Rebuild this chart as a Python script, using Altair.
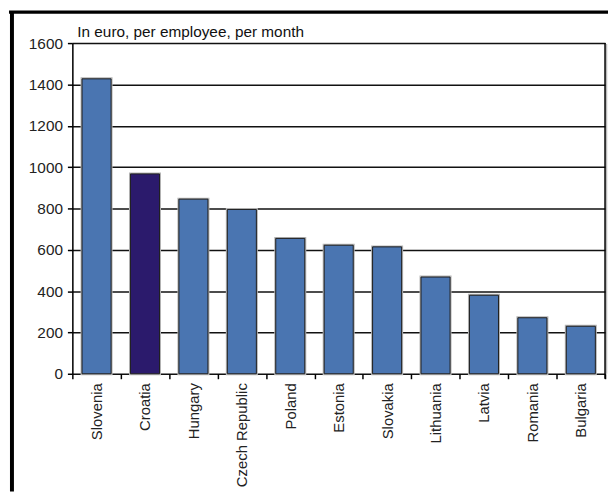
import altair as alt
import pandas as pd

countries = ["Slovenia", "Croatia", "Hungary", "Czech Republic", "Poland", "Estonia",
             "Slovakia", "Lithuania", "Latvia", "Romania", "Bulgaria"]
values = [1427, 967, 845, 795, 655, 622, 614, 468, 380, 271, 230]
highlight = ["other", "Croatia", "other", "other", "other", "other",
             "other", "other", "other", "other", "other"]
y_ticks = [0, 200, 400, 600, 800, 1000, 1200, 1400, 1600]
subtitle = "In euro, per employee, per month"

df = pd.DataFrame({"country": countries, "value": values, "grp": highlight})

W, H = 538, 334
FONT = "Arial"

x_enc = alt.X("country:N", sort=countries, title=None,
              scale=alt.Scale(paddingInner=0, paddingOuter=0),
              axis=alt.Axis(labelAngle=-90, tickBand="extent", labelPadding=4,
                            domain=False, grid=False, labelLimit=200,
                            labelFontSize=15, labelFont=FONT))
y_enc = alt.Y("value:Q", title=None,
              scale=alt.Scale(domain=[0, 1600], nice=False),
              axis=alt.Axis(values=y_ticks, format="d", labelPadding=5,
                            labelFontSize=15.5, labelFont=FONT,
                            domainColor="#000000", domainWidth=1.5,
                            gridColor="#111111", gridWidth=1.5, gridOpacity=1))

base = alt.Chart(df)

halo = base.mark_bar(width=alt.RelativeBandSize(0.6), stroke="#b5b5b5",
                     strokeWidth=3, fill="#b5b5b5").encode(x=x_enc, y=y_enc)

bars = base.mark_bar(width=alt.RelativeBandSize(0.6), stroke="#1e1e1e",
                     strokeWidth=1).encode(
    x=x_enc, y=y_enc,
    color=alt.Color("grp:N", legend=None,
                    scale=alt.Scale(domain=["other", "Croatia"],
                                    range=["#4a75b1", "#2b1a6c"])))

one = pd.DataFrame({"t": [subtitle]})

title = alt.Chart(one).mark_text(align="left", baseline="alphabetic", fontSize=15.5,
                                 font=FONT, color="#111111").encode(
    text="t:N", x=alt.value(5), y=alt.value(-6))

right_shadow = alt.Chart(one).mark_rule(color="#bbbbbb", strokeWidth=1.5).encode(
    x=alt.value(W + 1.5), y=alt.value(1), y2=alt.value(H))
right_border = alt.Chart(one).mark_rule(color="#000000", strokeWidth=1.5).encode(
    x=alt.value(W), y=alt.value(0), y2=alt.value(H + 5))

left_frame = alt.Chart(one).mark_rule(color="#000000", strokeWidth=4).encode(
    x=alt.value(-61), y=alt.value(-31), y2=alt.value(H + 119))
top_frame = alt.Chart(one).mark_rule(color="#000000", strokeWidth=3.5).encode(
    x=alt.value(-64), x2=alt.value(W + 3), y=alt.value(-31.25))

chart = alt.layer(halo, bars, right_shadow, right_border, title, left_frame, top_frame).properties(
    width=W, height=H,
    autosize=alt.AutoSizeParams(type="none"),
    padding={"left": 65, "top": 33, "right": 3, "bottom": 119},
).configure_view(stroke=None).configure(background="#ffffff").configure_axis(
    labelColor="#222222", tickSize=5, tickColor="#000000", tickWidth=1.5,
)

chart.save("out.html", embed_options={"renderer": "svg", "actions": False})
